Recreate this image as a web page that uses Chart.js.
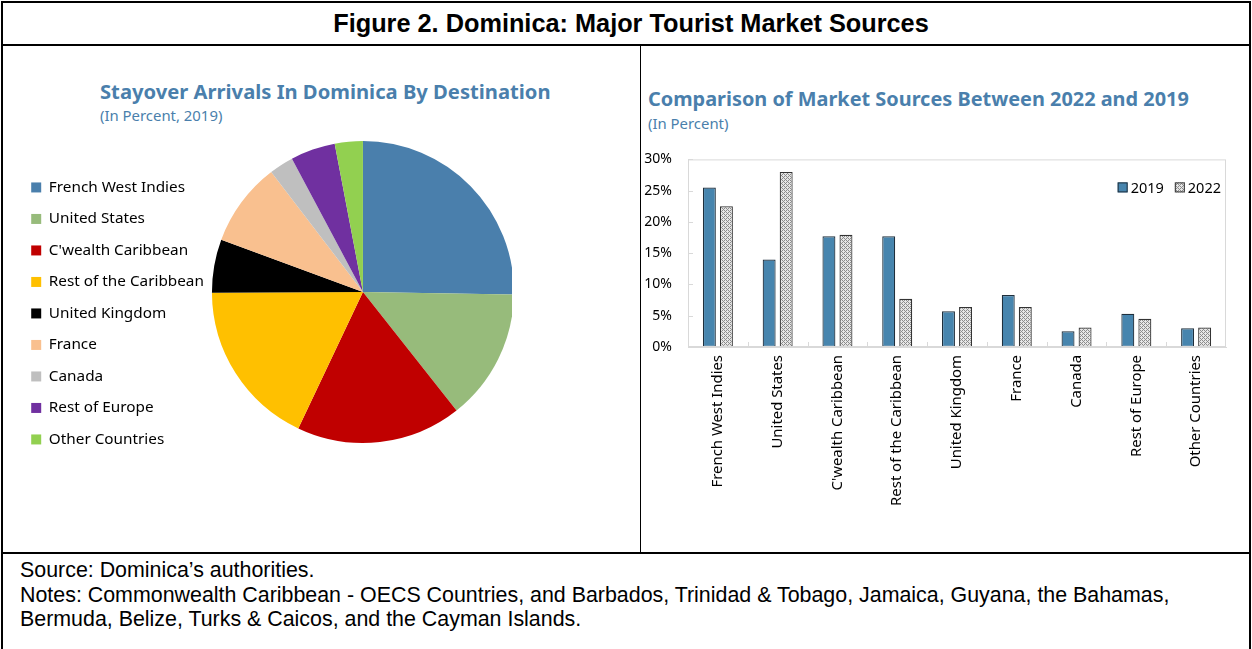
<!DOCTYPE html>
<html>
<head>
<meta charset="utf-8">
<script src="https://cdn.jsdelivr.net/npm/chart.js@4.4.1/dist/chart.umd.min.js"></script>
<style>
  body { margin: 0; width: 1252px; height: 649px; background: #fff; position: relative; overflow: hidden; font-family: "Liberation Sans", Arial, sans-serif; }
  .frame { position: absolute; left: 1px; top: 1px; width: 1246px; height: 660px; border: 2px solid #000; }
  .hline { position: absolute; left: 1px; width: 1250px; height: 2px; background: #000; }
  .vline { position: absolute; left: 640px; top: 45px; width: 1px; height: 508px; background: #000; }
  .fig-title { position: absolute; left: 5px; width: 1252px; top: 9px; text-align: center; font-weight: bold; font-size: 25.3px; }
  .ptitle { position: absolute; font-family: "Noto Sans", sans-serif; font-weight: bold; font-size: 20.2px; color: #4a7fac; white-space: nowrap; }
  .psub { position: absolute; font-family: "Noto Sans", sans-serif; font-size: 14.9px; color: #4a7fac; white-space: nowrap; }
  .notes { position: absolute; left: 20px; top: 558px; font-size: 21.4px; line-height: 24.5px; }
  canvas { position: absolute; }
</style>
</head>
<body>
<div class="frame"></div>
<div class="hline" style="top:44px"></div>
<div class="hline" style="top:552px"></div>
<div class="vline"></div>
<div class="fig-title">Figure 2. Dominica: Major Tourist Market Sources</div>

<div class="ptitle" style="left:100px; top:77px">Stayover Arrivals In Dominica By Destination</div>
<div class="psub" style="left:100px; top:105px">(In Percent, 2019)</div>
<div class="ptitle" style="left:648px; top:85px; font-size:19.9px">Comparison of Market Sources Between 2022 and 2019</div>
<div class="psub" style="left:648px; top:113px">(In Percent)</div>

<div style="position:absolute; left:15px; top:100px; width:497px; height:384px"><canvas id="pie"></canvas></div>
<div style="position:absolute; left:641px; top:135px; width:590px; height:412px"><canvas id="bars"></canvas></div>

<div class="notes">Source: Dominica’s authorities.<br>Notes: Commonwealth Caribbean - OECS Countries, and Barbados, Trinidad &amp; Tobago, Jamaica, Guyana, the Bahamas,<br>Bermuda, Belize, Turks &amp; Caicos, and the Cayman Islands.</div>

<script>
// categories and values
const categories = ['French West Indies', 'United States', "C'wealth Caribbean", 'Rest of the Caribbean',
    'United Kingdom', 'France', 'Canada', 'Rest of Europe', 'Other Countries'];
const pieShares2019 = [25.3, 14.1, 17.7, 17.9, 5.7, 9.0, 2.6, 4.8, 3.0];
const share2019 = [25.5, 14.0, 17.7, 17.7, 5.7, 8.3, 2.5, 5.3, 3.0];
const share2022 = [22.5, 28.0, 17.95, 7.7, 6.4, 6.4, 3.1, 4.5, 3.1];
const yTicks = [0, 5, 10, 15, 20, 25, 30];

const pieColors = ['#4a7fac', '#97bb7b', '#c00000', '#ffc000', '#000000', '#f9c08f', '#bfbfbf', '#7030a0', '#92d050'];

Chart.defaults.font.family = '"Noto Sans", sans-serif';
Chart.defaults.color = '#000';

// hatched fill for the 2022 bars
function hatch() {
    const c = document.createElement('canvas');
    c.width = 4; c.height = 4;
    const g = c.getContext('2d');
    g.fillStyle = '#e6e6e6';
    g.fillRect(0, 0, 4, 4);
    g.fillStyle = '#8c8c8c';
    for (let i = 0; i < 4; i++) g.fillRect(i, i, 1, 1);
    g.fillRect(3, 1, 1, 1); g.fillRect(1, 3, 1, 1);
    return g.createPattern(c, 'repeat');
}
const hatchFill = hatch();

new Chart(document.getElementById('pie'), {
    type: 'pie',
    data: { labels: categories, datasets: [{ data: pieShares2019, backgroundColor: pieColors, borderWidth: 0, radius: 151 }] },
    options: {
        responsive: true, maintainAspectRatio: false, animation: false,
        plugins: {
            tooltip: { enabled: false },
            legend: {
                position: 'left', align: 'start',
                // blank title only pushes the list down
                title: { display: true, text: ' ', font: { size: 1 }, padding: { top: 62.4, bottom: 0 } },
                labels: { boxWidth: 10, boxHeight: 10, padding: 16.2, font: { size: 15.3 }, color: '#000' }
            }
        }
    }
});

// legend that sits inside the plot, top right
const insideLegend = {
    id: 'insideLegend',
    afterDraw(chart) {
        const a = chart.chartArea, g = chart.ctx;
        g.save();
        g.font = '14.5px "Noto Sans", sans-serif';
        g.textBaseline = 'middle';
        const cy = a.top + 28;
        const items = chart.data.datasets.map(ds => ({ ds, w: g.measureText(ds.label).width }));
        let total = items.reduce((s, it) => s + 13 + it.w, 0) + 11 * (items.length - 1);
        let x = a.right - 5 - total;
        items.forEach(it => {
            g.fillStyle = it.ds.backgroundColor;
            g.fillRect(x, cy - 5, 10, 10);
            g.strokeStyle = it.ds.borderColor; g.lineWidth = 1;
            g.strokeRect(x + 0.5, cy - 4.5, 9, 9);
            g.fillStyle = '#000';
            g.fillText(it.ds.label, x + 13, cy + 1);
            x += 13 + it.w + 11;
        });
        g.restore();
    }
};

new Chart(document.getElementById('bars'), {
    type: 'bar',
    data: {
        labels: categories,
        datasets: [
            { label: '2019', data: share2019, backgroundColor: '#4785ae', borderColor: '#1f2f3c', borderWidth: 1.2, borderSkipped: false },
            { label: '2022', data: share2022, backgroundColor: hatchFill, borderColor: '#333', borderWidth: 1.2, borderSkipped: false }
        ]
    },
    options: {
        responsive: true, maintainAspectRatio: false, animation: false,
        categoryPercentage: 0.57, barPercentage: 0.76,
        layout: { padding: { left: 0, right: 5, top: 9, bottom: 0 } },
        plugins: {
            tooltip: { enabled: false },
            legend: { display: false }
        },
        scales: {
            x: {
                afterFit: ax => { ax.height = 200; },
                grid: { display: false, drawTicks: false },
                border: { color: '#d9d9d9' },
                ticks: { maxRotation: 90, minRotation: 90, font: { size: 14.9 }, padding: 8 }
            },
            y: {
                min: 0, max: 30,
                afterFit: ax => { ax.width = 47; },
                afterBuildTicks: ax => { ax.ticks = yTicks.map(v => ({ value: v })); },
                grid: { display: false, drawTicks: false },
                border: { color: '#d9d9d9' },
                ticks: { font: { size: 14 }, padding: 16, callback: v => v + '%' }
            }
        }
    },
    plugins: [insideLegend, {
        id: 'frame',
        afterDraw(chart) {
            const a = chart.chartArea, g = chart.ctx;
            const y = chart.scales.y;
            g.save();
            g.strokeStyle = '#d9d9d9'; g.lineWidth = 1;
            g.strokeRect(a.left + 0.5, a.top + 0.5, a.width - 1, a.height - 1);
            // small inward tick marks
            g.beginPath();
            yTicks.forEach(v => {
                const py = Math.round(y.getPixelForValue(v)) + 0.5;
                g.moveTo(a.left, py); g.lineTo(a.left + 5, py);
            });
            const step = a.width / categories.length;
            for (let i = 1; i < categories.length; i++) {
                const px = Math.round(a.left + i * step) + 0.5;
                g.moveTo(px, a.bottom); g.lineTo(px, a.bottom - 5);
            }
            g.stroke();
            g.restore();
        }
    }]
});
</script>
</body>
</html>
